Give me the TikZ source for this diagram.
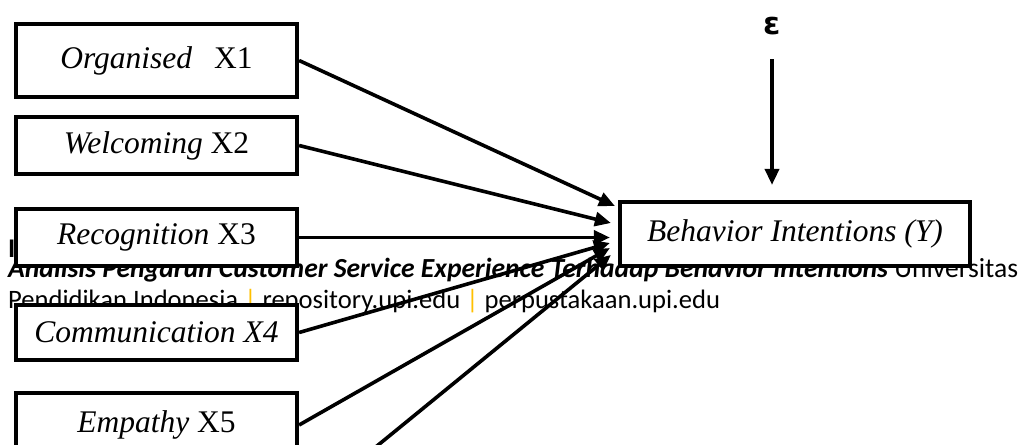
\documentclass[tikz,border=0pt]{standalone}
\usepackage{fontspec}
\setmainfont{Liberation Serif}
\newfontfamily\footfont{Carlito}
\newfontfamily\epsfont{DejaVu Sans}
\usetikzlibrary{arrows.meta}
\definecolor{barorange}{RGB}{255,192,0}

\begin{document}
\begin{tikzpicture}[x=1pt,y=-1pt,
    var/.style={draw=black,line width=4.2pt,fill=white,inner sep=0pt,minimum width=281pt,
      font=\fontsize{31.5}{34}\selectfont},
    link/.style={line width=3.6pt,-{Triangle[length=16pt,width=14pt]}},
    foot/.style={anchor=base west,inner sep=0pt,font=\footfont\fontsize{26.6}{30}\selectfont}]
  \useasboundingbox (0,0) rectangle (1024,444);
  \clip (0,0) rectangle (1024,444);
  % page footer behind the figure
  \node[foot,font=\footfont\bfseries\fontsize{27}{30}\selectfont] (f0) at (8,257) {I};
  \node[foot,font=\footfont\fontsize{27.6}{30}\selectfont] (f1) at (8,277) {\textbf{\textit{Analisis Pengaruh Customer Service Experience Terhadap Behavior Intentions}} Universitas};
  \node[foot] (f2) at (8,308) {Pendidikan Indonesia {\color{barorange}|} repository.upi.edu {\color{barorange}|} perpustakaan.upi.edu};

  \node[var,minimum height=73pt] (x1) at (156.5,60.5) {\textit{Organised}\;\, X1};
  \node[var,minimum height=57pt] (x2) at (156.5,145.5) {\textit{Welcoming} X2};
  \node[var,minimum height=57pt] (x3) at (156.5,237.5) {\textit{Recognition} X3};
  \node[var,minimum height=55pt] (x4) at (156.5,332.5) {\textit{Communication X4}};
  \node[var,minimum height=64pt] (x5) at (156.5,425) {\textit{Empathy} X5};
  \node[var,minimum width=350pt,minimum height=64pt] (y) at (795,234) {\textit{Behavior Intentions (Y)}};
  \node[inner sep=0pt,font=\epsfont\bfseries\fontsize{31}{32}\selectfont] (eps) at (772,26) {ε};
  \coordinate (x6) at (350,468);

  \draw[link] (x1.east) -- ([xshift=-3pt,yshift=28pt]y.west);
  \draw[link] (x2.east) -- ([xshift=-7pt,yshift=11pt]y.west);
  \draw[link] (x3.east) -- ([xshift=-8pt,yshift=-3.5pt]y.west);
  \draw[link] (x4.east) -- ([xshift=-8pt,yshift=-9pt]y.west);
  \draw[link] (x5.east) -- ([xshift=-8pt,yshift=-14pt]y.west);
  \draw[link] (x6) -- ([xshift=-7pt,yshift=-21pt]y.west);
  \draw[link,shorten <=24pt,shorten >=15pt] (eps.south) -- (eps.south |- y.north);
\end{tikzpicture}
\end{document}
